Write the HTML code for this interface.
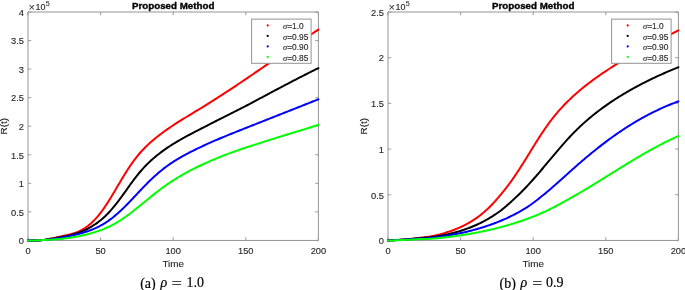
<!DOCTYPE html><html><head><meta charset="utf-8"><style>html,body{margin:0;padding:0;background:#fff;}body{width:685px;height:290px;overflow:hidden;}svg{display:block;}text{font-family:"Liberation Sans",Arial,Helvetica,sans-serif;fill:#262626;stroke:#262626;stroke-width:0.12px;}text.t{fill:#000;stroke:#000;stroke-width:0.35px;font-weight:bold;}text.cap{font-family:"Liberation Serif","Times New Roman",serif;fill:#000;stroke:#000;stroke-width:0.18px;}.sg{font-family:"Liberation Serif","Times New Roman",serif;font-style:italic;}</style></head><body>
<svg width="685" height="290" viewBox="0 0 685 290">
<path d="M28.00 240.45V237.25M28.00 12.00V15.20M100.60 240.45V237.25M100.60 12.00V15.20M173.20 240.45V237.25M173.20 12.00V15.20M245.80 240.45V237.25M245.80 12.00V15.20M318.40 240.45V237.25M318.40 12.00V15.20M28.00 240.45H31.20M318.40 240.45H315.20M28.00 211.89H31.20M318.40 211.89H315.20M28.00 183.34H31.20M318.40 183.34H315.20M28.00 154.78H31.20M318.40 154.78H315.20M28.00 126.22H31.20M318.40 126.22H315.20M28.00 97.67H31.20M318.40 97.67H315.20M28.00 69.11H31.20M318.40 69.11H315.20M28.00 40.56H31.20M318.40 40.56H315.20M28.00 12.00H31.20M318.40 12.00H315.20" stroke="#9c9c9c" stroke-width="1" fill="none"/>
<path d="M28.00 12.00H318.40V240.45H28.00Z" stroke="#939393" stroke-width="1" fill="none"/>
<path d="M28.00 240.45L29.42 240.49L30.82 240.53L32.23 240.55L33.62 240.56L35.01 240.57L36.40 240.48L37.78 240.39L39.15 240.28L40.52 240.17L41.89 240.03L43.26 239.89L44.62 239.73L45.98 239.52L47.33 239.29L48.69 239.04L50.05 238.78L51.40 238.50L52.76 238.21L54.12 237.91L55.49 237.61L56.87 237.29L58.26 236.98L59.66 236.67L61.07 236.37L62.49 236.07L63.91 235.77L65.34 235.47L66.76 235.15L68.18 234.83L69.58 234.48L70.98 234.12L72.36 233.73L73.72 233.32L75.06 232.87L76.38 232.40L77.67 231.88L78.93 231.32L80.17 230.73L81.38 230.11L82.56 229.44L83.72 228.75L84.86 228.02L85.97 227.28L87.06 226.52L88.13 225.72L89.17 224.90L90.20 224.04L91.20 223.17L92.19 222.26L93.16 221.33L94.11 220.38L95.04 219.41L95.96 218.42L96.86 217.40L97.75 216.37L98.62 215.32L99.48 214.25L100.33 213.17L101.16 212.08L101.98 210.97L102.79 209.84L103.60 208.71L104.39 207.56L105.17 206.41L105.94 205.25L106.71 204.08L107.47 202.91L108.23 201.73L108.98 200.54L109.72 199.35L110.46 198.16L111.19 196.96L111.92 195.76L112.65 194.56L113.37 193.35L114.09 192.14L114.81 190.93L115.53 189.72L116.24 188.51L116.96 187.29L117.67 186.08L118.39 184.87L119.10 183.65L119.82 182.44L120.53 181.23L121.25 180.03L121.97 178.82L122.70 177.62L123.42 176.42L124.15 175.22L124.89 174.03L125.63 172.85L126.37 171.66L127.12 170.49L127.88 169.32L128.64 168.15L129.40 166.99L130.18 165.84L130.96 164.70L131.75 163.56L132.55 162.44L133.36 161.32L134.18 160.21L135.01 159.11L135.84 158.02L136.69 156.94L137.55 155.87L138.42 154.81L139.31 153.76L140.20 152.73L141.11 151.71L142.03 150.70L142.97 149.70L143.91 148.71L144.87 147.73L145.83 146.77L146.81 145.81L147.80 144.87L148.80 143.94L149.81 143.01L150.83 142.10L151.86 141.19L152.90 140.30L153.95 139.41L155.01 138.53L156.08 137.67L157.15 136.80L158.23 135.95L159.32 135.11L160.42 134.27L161.53 133.44L162.64 132.61L163.76 131.80L164.89 130.99L166.02 130.18L167.16 129.39L168.30 128.59L169.45 127.81L170.60 127.03L171.76 126.25L172.93 125.48L174.10 124.71L175.27 123.95L176.45 123.19L177.63 122.44L178.81 121.69L179.99 120.94L181.18 120.19L182.38 119.45L183.57 118.71L184.77 117.98L185.96 117.24L187.16 116.51L188.36 115.78L189.56 115.05L190.77 114.32L191.97 113.59L193.17 112.87L194.37 112.14L195.57 111.41L196.77 110.69L197.97 109.96L199.17 109.23L200.37 108.51L201.57 107.78L202.76 107.05L203.95 106.31L205.14 105.58L206.33 104.85L207.51 104.11L208.70 103.37L209.88 102.63L211.05 101.89L212.23 101.15L213.41 100.41L214.58 99.66L215.75 98.92L216.92 98.17L218.09 97.42L219.25 96.67L220.42 95.92L221.58 95.17L222.74 94.42L223.90 93.67L225.06 92.91L226.22 92.15L227.37 91.40L228.53 90.64L229.68 89.88L230.83 89.12L231.98 88.36L233.13 87.59L234.28 86.83L235.43 86.07L236.58 85.30L237.72 84.53L238.86 83.77L240.01 83.00L241.15 82.23L242.29 81.46L243.43 80.69L244.57 79.92L245.71 79.15L246.85 78.37L247.99 77.60L249.13 76.83L250.26 76.05L251.40 75.28L252.54 74.50L253.67 73.72L254.81 72.94L255.94 72.17L257.08 71.39L258.21 70.61L259.35 69.83L260.48 69.05L261.62 68.27L262.75 67.49L263.89 66.71L265.02 65.92L266.16 65.14L267.29 64.36L268.43 63.58L269.56 62.79L270.70 62.01L271.83 61.23L272.97 60.44L274.10 59.66L275.24 58.87L276.38 58.09L277.52 57.30L278.65 56.52L279.79 55.73L280.93 54.95L282.07 54.16L283.21 53.37L284.36 52.59L285.50 51.80L286.64 51.02L287.79 50.23L288.93 49.44L290.08 48.66L291.23 47.87L292.37 47.09L293.52 46.30L294.68 45.52L295.83 44.73L296.98 43.95L298.14 43.16L299.29 42.38L300.45 41.59L301.61 40.81L302.77 40.02L303.93 39.24L305.09 38.45L306.26 37.67L307.42 36.89L308.59 36.11L309.76 35.32L310.93 34.54L312.11 33.76L313.28 32.98L314.46 32.20L315.64 31.42L316.82 30.64L318.01 29.86L318.40 29.60" fill="none" stroke="#ff0000" stroke-width="2.0" stroke-linejoin="round" stroke-linecap="round"/>
<path d="M28.00 240.45L29.31 240.51L30.62 240.55L31.92 240.58L33.23 240.60L34.53 240.61L35.83 240.57L37.13 240.49L38.43 240.40L39.72 240.29L41.02 240.18L42.31 240.07L43.60 239.94L44.89 239.81L46.19 239.63L47.48 239.44L48.77 239.25L50.06 239.05L51.35 238.85L52.64 238.64L53.93 238.43L55.22 238.21L56.52 237.98L57.81 237.75L59.10 237.51L60.40 237.27L61.69 237.03L62.99 236.78L64.28 236.53L65.57 236.27L66.86 235.99L68.14 235.71L69.42 235.41L70.70 235.10L71.97 234.77L73.23 234.42L74.48 234.05L75.73 233.67L76.97 233.26L78.21 232.82L79.43 232.37L80.64 231.90L81.85 231.40L83.04 230.88L84.22 230.34L85.40 229.79L86.56 229.23L87.71 228.65L88.86 228.05L89.99 227.43L91.10 226.80L92.21 226.14L93.31 225.46L94.39 224.77L95.46 224.06L96.52 223.32L97.56 222.57L98.59 221.81L99.61 221.02L100.61 220.22L101.60 219.40L102.58 218.57L103.54 217.71L104.49 216.85L105.42 215.96L106.34 215.07L107.25 214.16L108.15 213.23L109.03 212.29L109.91 211.35L110.78 210.38L111.63 209.41L112.48 208.43L113.31 207.44L114.14 206.43L114.97 205.42L115.78 204.40L116.59 203.38L117.39 202.34L118.19 201.30L118.98 200.25L119.76 199.20L120.54 198.14L121.32 197.08L122.10 196.01L122.87 194.95L123.64 193.87L124.41 192.80L125.17 191.72L125.94 190.65L126.71 189.57L127.47 188.50L128.24 187.42L129.01 186.34L129.78 185.27L130.55 184.20L131.33 183.13L132.10 182.07L132.89 181.01L133.67 179.96L134.46 178.91L135.26 177.86L136.06 176.83L136.87 175.80L137.69 174.77L138.51 173.76L139.34 172.75L140.18 171.75L141.02 170.77L141.88 169.79L142.75 168.82L143.62 167.87L144.51 166.92L145.40 165.99L146.30 165.06L147.22 164.15L148.14 163.25L149.07 162.36L150.01 161.47L150.95 160.60L151.91 159.74L152.87 158.88L153.85 158.04L154.82 157.21L155.81 156.38L156.81 155.57L157.81 154.76L158.82 153.96L159.84 153.17L160.86 152.40L161.89 151.63L162.93 150.86L163.97 150.11L165.02 149.37L166.08 148.63L167.14 147.90L168.21 147.18L169.29 146.47L170.37 145.77L171.45 145.07L172.54 144.38L173.64 143.70L174.74 143.03L175.85 142.36L176.96 141.70L178.07 141.04L179.19 140.39L180.32 139.75L181.44 139.11L182.57 138.47L183.71 137.84L184.85 137.22L185.99 136.60L187.13 135.98L188.27 135.36L189.42 134.75L190.57 134.14L191.72 133.54L192.88 132.93L194.03 132.33L195.19 131.73L196.35 131.13L197.50 130.54L198.66 129.94L199.82 129.35L200.98 128.75L202.14 128.16L203.31 127.56L204.47 126.97L205.63 126.37L206.79 125.77L207.95 125.18L209.10 124.58L210.26 123.98L211.42 123.38L212.58 122.78L213.74 122.18L214.89 121.58L216.05 120.99L217.21 120.42L218.36 119.84L219.52 119.26L220.67 118.68L221.83 118.11L222.98 117.53L224.14 116.95L225.29 116.37L226.44 115.79L227.60 115.21L228.75 114.63L229.91 114.05L231.06 113.46L232.21 112.88L233.37 112.30L234.52 111.72L235.67 111.14L236.82 110.55L237.98 109.97L239.13 109.39L240.28 108.81L241.43 108.22L242.59 107.64L243.74 107.06L244.89 106.47L246.04 105.87L247.19 105.25L248.35 104.64L249.50 104.02L250.65 103.40L251.80 102.79L252.96 102.17L254.11 101.56L255.26 100.94L256.41 100.33L257.57 99.71L258.72 99.10L259.87 98.48L261.03 97.87L262.18 97.26L263.33 96.64L264.49 96.03L265.64 95.42L266.79 94.80L267.95 94.18L269.10 93.56L270.26 92.95L271.41 92.33L272.57 91.71L273.73 91.10L274.88 90.48L276.04 89.87L277.20 89.26L278.35 88.65L279.51 88.03L280.67 87.42L281.83 86.81L282.99 86.20L284.15 85.59L285.30 84.98L286.46 84.37L287.63 83.77L288.79 83.16L289.95 82.55L291.11 81.94L292.27 81.34L293.44 80.73L294.60 80.13L295.76 79.53L296.93 78.93L298.09 78.33L299.26 77.73L300.43 77.13L301.59 76.53L302.76 75.93L303.93 75.34L305.10 74.75L306.27 74.15L307.44 73.56L308.61 72.97L309.78 72.38L310.96 71.80L312.13 71.21L313.30 70.62L314.48 70.04L315.65 69.46L316.83 68.88L318.01 68.30L318.40 68.11" fill="none" stroke="#000000" stroke-width="2.0" stroke-linejoin="round" stroke-linecap="round"/>
<path d="M28.00 240.45L29.23 240.47L30.46 240.48L31.69 240.49L32.92 240.50L34.15 240.50L35.39 240.49L36.62 240.42L37.86 240.35L39.10 240.28L40.34 240.21L41.58 240.13L42.82 240.04L44.06 239.96L45.30 239.86L46.54 239.73L47.78 239.59L49.02 239.45L50.26 239.30L51.51 239.15L52.75 238.99L53.99 238.83L55.23 238.66L56.47 238.47L57.71 238.28L58.95 238.09L60.19 237.88L61.43 237.67L62.67 237.46L63.90 237.23L65.14 237.00L66.38 236.77L67.61 236.52L68.84 236.27L70.07 236.01L71.30 235.75L72.53 235.47L73.75 235.19L74.97 234.90L76.19 234.59L77.40 234.28L78.61 233.96L79.82 233.63L81.02 233.28L82.21 232.93L83.41 232.56L84.59 232.19L85.77 231.81L86.94 231.43L88.11 231.03L89.27 230.63L90.42 230.21L91.57 229.77L92.71 229.32L93.84 228.86L94.96 228.38L96.07 227.88L97.17 227.37L98.27 226.84L99.35 226.29L100.43 225.73L101.49 225.14L102.54 224.55L103.59 223.93L104.62 223.30L105.64 222.65L106.66 221.98L107.66 221.30L108.66 220.61L109.65 219.90L110.63 219.17L111.60 218.43L112.57 217.69L113.52 216.92L114.47 216.15L115.42 215.36L116.35 214.57L117.28 213.76L118.21 212.94L119.13 212.11L120.04 211.28L120.95 210.43L121.85 209.58L122.75 208.72L123.64 207.85L124.53 206.98L125.42 206.10L126.30 205.21L127.18 204.32L128.05 203.43L128.93 202.52L129.80 201.62L130.66 200.71L131.53 199.80L132.39 198.89L133.26 197.97L134.12 197.06L134.98 196.14L135.84 195.22L136.70 194.31L137.56 193.39L138.42 192.47L139.28 191.56L140.14 190.64L141.01 189.73L141.87 188.83L142.73 187.92L143.60 187.02L144.47 186.12L145.34 185.23L146.22 184.34L147.09 183.46L147.97 182.58L148.85 181.71L149.74 180.84L150.63 179.98L151.52 179.12L152.42 178.27L153.32 177.43L154.23 176.60L155.14 175.77L156.05 174.94L156.97 174.13L157.90 173.32L158.83 172.52L159.76 171.73L160.71 170.95L161.65 170.18L162.61 169.41L163.57 168.66L164.54 167.91L165.51 167.18L166.50 166.45L167.48 165.73L168.48 165.03L169.48 164.33L170.49 163.64L171.50 162.96L172.53 162.29L173.55 161.62L174.58 160.97L175.62 160.32L176.66 159.68L177.71 159.05L178.77 158.42L179.82 157.80L180.89 157.19L181.95 156.58L183.03 155.98L184.10 155.39L185.18 154.80L186.26 154.22L187.35 153.64L188.44 153.07L189.54 152.51L190.63 151.94L191.73 151.39L192.83 150.83L193.94 150.28L195.05 149.74L196.16 149.19L197.27 148.65L198.38 148.12L199.50 147.59L200.62 147.06L201.74 146.53L202.86 146.01L203.98 145.49L205.11 144.97L206.24 144.46L207.37 143.95L208.50 143.44L209.63 142.93L210.77 142.43L211.90 141.93L213.04 141.43L214.18 140.94L215.32 140.44L216.46 139.95L217.60 139.46L218.75 138.98L219.89 138.49L221.04 138.01L222.18 137.53L223.33 137.05L224.48 136.57L225.63 136.10L226.78 135.62L227.93 135.15L229.09 134.68L230.24 134.21L231.39 133.74L232.55 133.27L233.70 132.81L234.86 132.34L236.01 131.88L237.17 131.42L238.32 130.96L239.48 130.50L240.64 130.04L241.79 129.58L242.95 129.12L244.11 128.66L245.26 128.20L246.42 127.75L247.58 127.29L248.73 126.83L249.89 126.38L251.05 125.92L252.20 125.47L253.36 125.01L254.51 124.56L255.67 124.10L256.82 123.65L257.98 123.19L259.13 122.74L260.29 122.28L261.44 121.83L262.59 121.37L263.75 120.92L264.90 120.46L266.05 120.01L267.21 119.55L268.36 119.10L269.51 118.64L270.67 118.19L271.82 117.73L272.97 117.28L274.12 116.82L275.28 116.37L276.43 115.91L277.58 115.46L278.73 115.00L279.89 114.55L281.04 114.09L282.19 113.64L283.34 113.18L284.50 112.73L285.65 112.27L286.80 111.82L287.96 111.36L289.11 110.91L290.26 110.45L291.42 109.99L292.57 109.54L293.72 109.08L294.88 108.63L296.03 108.17L297.19 107.71L298.34 107.26L299.49 106.80L300.65 106.34L301.80 105.88L302.96 105.43L304.12 104.97L305.27 104.51L306.43 104.05L307.59 103.59L308.74 103.13L309.90 102.68L311.06 102.22L312.22 101.76L313.37 101.30L314.53 100.84L315.69 100.38L316.85 99.91L318.01 99.45L318.40 99.30" fill="none" stroke="#0000ff" stroke-width="2.0" stroke-linejoin="round" stroke-linecap="round"/>
<path d="M28.00 240.50L29.17 240.49L30.35 240.48L31.52 240.48L32.70 240.48L33.89 240.48L35.07 240.48L36.26 240.42L37.45 240.35L38.65 240.29L39.84 240.23L41.04 240.17L42.24 240.12L43.44 240.06L44.64 240.00L45.85 239.93L47.05 239.86L48.26 239.79L49.47 239.72L50.68 239.64L51.89 239.56L53.09 239.48L54.30 239.40L55.51 239.31L56.73 239.22L57.94 239.13L59.15 239.03L60.35 238.92L61.56 238.79L62.77 238.66L63.98 238.52L65.19 238.37L66.39 238.21L67.60 238.06L68.80 237.89L70.00 237.71L71.20 237.53L72.40 237.35L73.59 237.15L74.78 236.95L75.97 236.74L77.16 236.52L78.35 236.29L79.53 236.06L80.71 235.81L81.89 235.56L83.06 235.30L84.23 235.03L85.40 234.75L86.56 234.46L87.72 234.16L88.88 233.85L90.03 233.53L91.18 233.22L92.32 232.91L93.46 232.58L94.60 232.24L95.72 231.89L96.85 231.53L97.97 231.16L99.08 230.78L100.19 230.38L101.30 229.98L102.39 229.56L103.49 229.13L104.57 228.68L105.65 228.23L106.73 227.76L107.79 227.28L108.85 226.78L109.91 226.27L110.96 225.75L112.00 225.21L113.03 224.67L114.06 224.11L115.08 223.53L116.10 222.95L117.11 222.35L118.11 221.74L119.11 221.13L120.11 220.50L121.10 219.86L122.08 219.21L123.06 218.55L124.04 217.89L125.01 217.21L125.98 216.53L126.94 215.84L127.90 215.14L128.86 214.44L129.81 213.72L130.76 213.01L131.71 212.28L132.66 211.55L133.60 210.82L134.54 210.08L135.48 209.34L136.42 208.59L137.35 207.84L138.29 207.08L139.22 206.32L140.15 205.56L141.08 204.80L142.01 204.04L142.94 203.27L143.87 202.50L144.80 201.74L145.73 200.97L146.66 200.20L147.58 199.43L148.52 198.67L149.45 197.90L150.38 197.14L151.31 196.38L152.25 195.63L153.18 194.88L154.12 194.14L155.06 193.39L156.00 192.66L156.95 191.92L157.90 191.19L158.85 190.46L159.80 189.74L160.76 189.03L161.72 188.32L162.68 187.62L163.65 186.92L164.61 186.23L165.59 185.54L166.56 184.86L167.54 184.19L168.52 183.52L169.51 182.86L170.50 182.20L171.49 181.55L172.48 180.90L173.48 180.26L174.48 179.62L175.48 178.99L176.49 178.37L177.50 177.75L178.51 177.13L179.52 176.52L180.54 175.92L181.56 175.32L182.59 174.72L183.61 174.14L184.64 173.55L185.67 172.97L186.70 172.40L187.74 171.83L188.78 171.26L189.82 170.70L190.86 170.15L191.91 169.62L192.96 169.08L194.01 168.56L195.06 168.04L196.12 167.52L197.18 167.00L198.24 166.49L199.30 165.99L200.37 165.49L201.43 164.99L202.50 164.50L203.57 164.01L204.65 163.53L205.72 163.05L206.80 162.57L207.88 162.09L208.96 161.61L210.05 161.14L211.13 160.67L212.22 160.20L213.31 159.73L214.40 159.27L215.50 158.81L216.59 158.36L217.69 157.91L218.79 157.46L219.89 157.02L220.99 156.58L222.10 156.14L223.20 155.71L224.31 155.28L225.42 154.85L226.53 154.43L227.64 154.01L228.76 153.59L229.87 153.17L230.99 152.76L232.11 152.35L233.22 151.95L234.35 151.55L235.47 151.15L236.59 150.75L237.72 150.35L238.84 149.96L239.97 149.57L241.10 149.19L242.23 148.80L243.36 148.42L244.49 148.04L245.63 147.67L246.76 147.29L247.90 146.92L249.03 146.55L250.17 146.19L251.31 145.82L252.45 145.46L253.59 145.09L254.73 144.71L255.87 144.34L257.01 143.96L258.16 143.59L259.30 143.22L260.45 142.85L261.59 142.48L262.74 142.12L263.89 141.76L265.03 141.39L266.18 141.03L267.33 140.68L268.48 140.32L269.63 139.96L270.78 139.60L271.93 139.24L273.08 138.87L274.23 138.51L275.39 138.14L276.54 137.78L277.69 137.42L278.84 137.06L280.00 136.70L281.15 136.34L282.30 135.99L283.46 135.63L284.61 135.28L285.77 134.92L286.92 134.57L288.08 134.22L289.23 133.87L290.38 133.52L291.54 133.17L292.69 132.82L293.85 132.47L295.00 132.12L296.16 131.77L297.31 131.43L298.46 131.08L299.62 130.73L300.77 130.39L301.92 130.04L303.07 129.70L304.23 129.35L305.38 129.01L306.53 128.66L307.68 128.31L308.83 127.93L309.98 127.56L311.13 127.19L312.28 126.81L313.43 126.44L314.58 126.07L315.73 125.69L316.87 125.32L318.02 124.94L318.40 124.82" fill="none" stroke="#00ff00" stroke-width="2.0" stroke-linejoin="round" stroke-linecap="round"/>
<rect x="251.60" y="19.10" width="59.50" height="44.20" fill="#fff" stroke="#939393" stroke-width="1"/>
<circle cx="267.70" cy="25.40" r="1.1" fill="#ff0000"/>
<text x="283.0" y="29.10" font-size="8.4"><tspan class="sg">σ</tspan>=1.0</text>
<circle cx="267.70" cy="35.90" r="1.1" fill="#000000"/>
<text x="283.0" y="39.60" font-size="8.4"><tspan class="sg">σ</tspan>=0.95</text>
<circle cx="267.70" cy="46.40" r="1.1" fill="#0000ff"/>
<text x="283.0" y="50.10" font-size="8.4"><tspan class="sg">σ</tspan>=0.90</text>
<circle cx="267.70" cy="56.90" r="1.1" fill="#00ff00"/>
<text x="283.0" y="60.60" font-size="8.4"><tspan class="sg">σ</tspan>=0.85</text>
<text x="28.00" y="254.2" font-size="9.3" text-anchor="middle">0</text>
<text x="100.60" y="254.2" font-size="9.3" text-anchor="middle">50</text>
<text x="173.20" y="254.2" font-size="9.3" text-anchor="middle">100</text>
<text x="245.80" y="254.2" font-size="9.3" text-anchor="middle">150</text>
<text x="318.40" y="254.2" font-size="9.3" text-anchor="middle">200</text>
<text x="24.00" y="244.20" font-size="9.3" text-anchor="end">0</text>
<text x="24.00" y="215.64" font-size="9.3" text-anchor="end">0.5</text>
<text x="24.00" y="187.09" font-size="9.3" text-anchor="end">1</text>
<text x="24.00" y="158.53" font-size="9.3" text-anchor="end">1.5</text>
<text x="24.00" y="129.97" font-size="9.3" text-anchor="end">2</text>
<text x="24.00" y="101.42" font-size="9.3" text-anchor="end">2.5</text>
<text x="24.00" y="72.86" font-size="9.3" text-anchor="end">3</text>
<text x="24.00" y="44.31" font-size="9.3" text-anchor="end">3.5</text>
<text x="24.00" y="15.75" font-size="9.3" text-anchor="end">4</text>
<text x="28.5" y="11.1" font-size="11" style="stroke-width:0">×</text>
<text x="35.6" y="9.8" font-size="9">10</text>
<text x="45.7" y="5.8" font-size="7.2" style="stroke-width:0.05px">5</text>
<text class="t" x="173.20" y="8.7" font-size="9.75" text-anchor="middle">Proposed Method</text>
<text x="173.20" y="267" font-size="9.9" text-anchor="middle">Time</text>
<text transform="translate(6.50,126.22) rotate(-90)" font-size="9.9" text-anchor="middle">R(t)</text>
<text class="cap" x="140.2" y="287.6" font-size="14">(a)</text>
<text class="cap" x="160.4" y="287.3" font-size="14" font-style="italic">ρ</text>
<text class="cap" x="171.6" y="288.4" font-size="14" textLength="10.4" lengthAdjust="spacingAndGlyphs">=</text>
<text class="cap" x="186.4" y="287" font-size="14">1.0</text>
<path d="M388.00 240.45V237.25M388.00 12.00V15.20M460.60 240.45V237.25M460.60 12.00V15.20M533.20 240.45V237.25M533.20 12.00V15.20M605.80 240.45V237.25M605.80 12.00V15.20M678.40 240.45V237.25M678.40 12.00V15.20M388.00 240.45H391.20M678.40 240.45H675.20M388.00 194.76H391.20M678.40 194.76H675.20M388.00 149.07H391.20M678.40 149.07H675.20M388.00 103.38H391.20M678.40 103.38H675.20M388.00 57.69H391.20M678.40 57.69H675.20M388.00 12.00H391.20M678.40 12.00H675.20" stroke="#9c9c9c" stroke-width="1" fill="none"/>
<path d="M388.00 12.00H678.40V240.45H388.00Z" stroke="#939393" stroke-width="1" fill="none"/>
<path d="M388.00 240.45L389.38 240.41L390.77 240.36L392.16 240.31L393.54 240.25L394.94 240.19L396.33 240.11L397.73 240.03L399.12 239.94L400.52 239.85L401.92 239.75L403.32 239.64L404.72 239.52L406.12 239.39L407.53 239.26L408.93 239.12L410.33 238.97L411.74 238.81L413.14 238.64L414.55 238.46L415.95 238.28L417.35 238.08L418.75 237.88L420.15 237.73L421.55 237.58L422.95 237.42L424.35 237.26L425.74 237.08L427.14 236.89L428.53 236.69L429.92 236.49L431.30 236.24L432.69 235.97L434.07 235.70L435.45 235.41L436.82 235.11L438.20 234.80L439.57 234.48L440.93 234.12L442.29 233.74L443.65 233.34L445.01 232.93L446.36 232.51L447.70 232.07L449.04 231.63L450.37 231.17L451.70 230.69L453.01 230.20L454.33 229.70L455.63 229.19L456.93 228.66L458.22 228.12L459.50 227.56L460.77 226.99L462.03 226.40L463.29 225.80L464.53 225.18L465.76 224.55L466.98 223.90L468.20 223.24L469.40 222.56L470.59 221.86L471.76 221.15L472.93 220.42L474.08 219.68L475.22 218.92L476.36 218.15L477.48 217.36L478.59 216.56L479.68 215.74L480.77 214.89L481.85 214.00L482.92 213.10L483.97 212.19L485.02 211.26L486.06 210.32L487.09 209.37L488.11 208.41L489.11 207.44L490.11 206.45L491.10 205.45L492.09 204.43L493.06 203.40L494.02 202.37L494.98 201.32L495.93 200.26L496.86 199.20L497.80 198.12L498.72 197.04L499.63 195.95L500.54 194.87L501.44 193.80L502.33 192.73L503.22 191.65L504.10 190.56L504.97 189.46L505.83 188.36L506.69 187.25L507.54 186.13L508.39 185.01L509.22 183.88L510.06 182.74L510.88 181.60L511.70 180.46L512.52 179.30L513.33 178.15L514.13 176.98L514.93 175.82L515.73 174.65L516.52 173.47L517.30 172.30L518.08 171.11L518.86 169.93L519.63 168.74L520.39 167.55L521.16 166.36L521.92 165.16L522.68 163.97L523.43 162.77L524.18 161.57L524.93 160.37L525.68 159.17L526.42 157.96L527.17 156.76L527.91 155.55L528.65 154.35L529.39 153.15L530.13 151.94L530.87 150.74L531.61 149.53L532.36 148.33L533.10 147.13L533.84 145.93L534.59 144.73L535.33 143.54L536.08 142.34L536.83 141.15L537.58 139.96L538.34 138.78L539.10 137.59L539.86 136.41L540.62 135.24L541.39 134.06L542.17 132.89L542.95 131.73L543.73 130.57L544.52 129.41L545.31 128.26L546.11 127.11L546.91 125.97L547.72 124.84L548.54 123.71L549.36 122.58L550.19 121.46L551.03 120.35L551.87 119.25L552.72 118.15L553.58 117.06L554.45 115.97L555.33 114.90L556.22 113.83L557.11 112.77L558.02 111.71L558.93 110.67L559.85 109.63L560.78 108.60L561.72 107.57L562.66 106.56L563.62 105.55L564.58 104.55L565.55 103.55L566.52 102.56L567.51 101.58L568.50 100.61L569.50 99.64L570.51 98.68L571.52 97.72L572.54 96.77L573.57 95.83L574.60 94.90L575.64 93.97L576.69 93.05L577.74 92.13L578.81 91.22L579.87 90.32L580.94 89.42L582.02 88.53L583.11 87.64L584.20 86.76L585.30 85.89L586.40 85.02L587.50 84.15L588.62 83.30L589.73 82.45L590.86 81.60L591.99 80.76L593.12 79.92L594.26 79.09L595.40 78.27L596.55 77.45L597.70 76.63L598.85 75.82L600.01 75.01L601.18 74.21L602.35 73.42L603.52 72.63L604.69 71.84L605.87 71.06L607.06 70.28L608.24 69.51L609.43 68.74L610.63 67.97L611.82 67.21L613.02 66.45L614.22 65.70L615.43 64.95L616.64 64.21L617.85 63.47L619.06 62.73L620.27 62.00L621.49 61.27L622.71 60.54L623.93 59.82L625.16 59.10L626.38 58.39L627.61 57.68L628.84 56.97L630.07 56.26L631.30 55.56L632.53 54.86L633.77 54.16L635.00 53.47L636.24 52.78L637.47 52.09L638.71 51.41L639.95 50.72L641.19 50.04L642.42 49.37L643.66 48.69L644.90 48.02L646.14 47.35L647.38 46.68L648.62 46.01L649.86 45.35L651.09 44.69L652.33 44.03L653.57 43.37L654.81 42.72L656.04 42.06L657.27 41.41L658.51 40.76L659.74 40.11L660.97 39.46L662.20 38.81L663.43 38.17L664.65 37.53L665.88 36.88L667.10 36.24L668.32 35.60L669.54 34.96L670.76 34.32L671.97 33.69L673.18 33.05L674.39 32.41L675.60 31.78L676.80 31.15L678.00 30.51L678.40 30.30" fill="none" stroke="#ff0000" stroke-width="2.0" stroke-linejoin="round" stroke-linecap="round"/>
<path d="M388.00 240.45L389.29 240.39L390.58 240.32L391.88 240.26L393.18 240.19L394.48 240.12L395.78 240.04L397.09 239.97L398.39 239.89L399.70 239.81L401.01 239.72L402.33 239.63L403.64 239.54L404.96 239.45L406.27 239.35L407.59 239.25L408.91 239.14L410.23 239.03L411.55 238.92L412.87 238.80L414.19 238.68L415.52 238.55L416.84 238.42L418.16 238.28L419.49 238.16L420.81 238.09L422.13 238.01L423.45 237.92L424.77 237.83L426.09 237.73L427.41 237.63L428.73 237.52L430.05 237.40L431.37 237.22L432.68 237.03L434.00 236.84L435.31 236.64L436.62 236.43L437.93 236.21L439.23 235.99L440.54 235.75L441.84 235.50L443.14 235.24L444.43 234.97L445.73 234.70L447.02 234.41L448.31 234.12L449.59 233.82L450.87 233.51L452.15 233.19L453.43 232.87L454.70 232.53L455.97 232.18L457.23 231.83L458.49 231.46L459.75 231.09L461.00 230.71L462.24 230.31L463.49 229.91L464.72 229.49L465.96 229.07L467.18 228.63L468.41 228.18L469.62 227.73L470.84 227.26L472.04 226.78L473.24 226.28L474.44 225.78L475.63 225.27L476.81 224.74L477.99 224.20L479.16 223.65L480.32 223.09L481.48 222.51L482.63 221.92L483.77 221.32L484.91 220.71L486.04 220.09L487.17 219.45L488.29 218.81L489.40 218.15L490.51 217.48L491.61 216.80L492.70 216.11L493.79 215.41L494.87 214.70L495.95 213.98L497.02 213.25L498.08 212.50L499.14 211.75L500.19 210.99L501.24 210.17L502.28 209.35L503.31 208.51L504.34 207.66L505.36 206.81L506.38 205.95L507.39 205.08L508.39 204.20L509.39 203.32L510.39 202.43L511.38 201.53L512.36 200.62L513.34 199.70L514.31 198.78L515.28 197.86L516.24 196.97L517.20 196.07L518.15 195.17L519.09 194.26L520.03 193.35L520.97 192.43L521.90 191.50L522.83 190.57L523.75 189.63L524.66 188.69L525.57 187.74L526.48 186.79L527.38 185.83L528.28 184.86L529.17 183.90L530.06 182.93L530.94 181.95L531.82 180.97L532.70 179.99L533.58 179.01L534.45 178.02L535.32 177.03L536.18 176.03L537.05 175.03L537.91 174.03L538.77 173.03L539.63 172.03L540.48 171.02L541.33 170.01L542.19 169.00L543.04 167.99L543.89 166.98L544.73 165.97L545.58 164.96L546.43 163.94L547.28 162.93L548.12 161.91L548.97 160.90L549.81 159.88L550.66 158.87L551.51 157.85L552.35 156.84L553.20 155.83L554.05 154.82L554.90 153.81L555.75 152.80L556.60 151.79L557.45 150.79L558.31 149.78L559.17 148.78L560.03 147.78L560.89 146.79L561.75 145.79L562.62 144.80L563.49 143.81L564.36 142.83L565.24 141.85L566.12 140.87L567.00 139.90L567.88 138.93L568.77 137.97L569.67 137.01L570.56 136.05L571.47 135.10L572.37 134.15L573.28 133.21L574.20 132.28L575.12 131.35L576.05 130.42L576.98 129.50L577.91 128.59L578.86 127.68L579.80 126.78L580.76 125.89L581.71 125.00L582.68 124.12L583.65 123.24L584.62 122.37L585.60 121.50L586.58 120.64L587.57 119.79L588.56 118.94L589.56 118.10L590.56 117.26L591.57 116.43L592.58 115.60L593.60 114.78L594.62 113.97L595.65 113.16L596.68 112.35L597.71 111.56L598.75 110.76L599.79 109.98L600.84 109.19L601.89 108.42L602.95 107.64L604.01 106.88L605.07 106.12L606.14 105.36L607.21 104.61L608.29 103.86L609.37 103.12L610.45 102.39L611.54 101.66L612.63 100.93L613.72 100.21L614.82 99.49L615.92 98.78L617.03 98.08L618.13 97.38L619.25 96.68L620.36 95.99L621.48 95.30L622.60 94.62L623.73 93.94L624.85 93.27L625.98 92.60L627.12 91.94L628.26 91.28L629.40 90.62L630.54 89.98L631.68 89.33L632.83 88.69L633.98 88.05L635.14 87.42L636.29 86.79L637.45 86.17L638.61 85.55L639.78 84.94L640.94 84.33L642.11 83.72L643.28 83.12L644.45 82.52L645.63 81.93L646.81 81.34L647.99 80.75L649.17 80.17L650.35 79.60L651.54 79.02L652.72 78.45L653.91 77.89L655.10 77.33L656.29 76.77L657.49 76.21L658.68 75.67L659.88 75.12L661.08 74.58L662.28 74.04L663.48 73.50L664.69 72.97L665.89 72.44L667.10 71.92L668.30 71.40L669.51 70.88L670.72 70.37L671.93 69.86L673.14 69.35L674.35 68.85L675.57 68.35L676.78 67.86L677.99 67.36L678.40 67.20" fill="none" stroke="#000000" stroke-width="2.0" stroke-linejoin="round" stroke-linecap="round"/>
<path d="M388.00 240.45L389.23 240.40L390.46 240.36L391.70 240.31L392.93 240.26L394.16 240.20L395.40 240.15L396.64 240.09L397.87 240.03L399.11 239.96L400.35 239.90L401.59 239.83L402.83 239.76L404.07 239.68L405.31 239.60L406.55 239.52L407.79 239.44L409.03 239.36L410.28 239.27L411.52 239.17L412.76 239.08L414.01 238.98L415.25 238.88L416.49 238.77L417.74 238.67L418.98 238.55L420.22 238.50L421.46 238.45L422.71 238.40L423.95 238.34L425.19 238.28L426.44 238.21L427.68 238.14L428.92 238.07L430.16 237.99L431.40 237.85L432.64 237.71L433.88 237.56L435.12 237.41L436.36 237.26L437.60 237.10L438.83 236.94L440.07 236.78L441.30 236.60L442.54 236.41L443.77 236.22L445.00 236.02L446.23 235.82L447.46 235.62L448.69 235.41L449.92 235.19L451.15 234.97L452.37 234.75L453.60 234.52L454.82 234.29L456.04 234.05L457.26 233.80L458.48 233.56L459.69 233.30L460.91 233.04L462.12 232.78L463.33 232.51L464.54 232.23L465.75 231.95L466.95 231.66L468.16 231.37L469.36 231.08L470.56 230.77L471.76 230.46L472.95 230.15L474.15 229.83L475.34 229.50L476.53 229.17L477.72 228.83L478.90 228.49L480.08 228.14L481.26 227.78L482.44 227.42L483.61 227.05L484.79 226.68L485.96 226.30L487.12 225.91L488.29 225.52L489.45 225.12L490.61 224.71L491.76 224.30L492.91 223.88L494.06 223.45L495.21 223.02L496.35 222.58L497.50 222.13L498.63 221.68L499.77 221.21L500.90 220.75L502.03 220.27L503.15 219.79L504.27 219.30L505.39 218.80L506.50 218.30L507.61 217.79L508.72 217.27L509.82 216.74L510.92 216.21L512.02 215.67L513.11 215.12L514.20 214.57L515.28 214.00L516.37 213.43L517.44 212.85L518.51 212.26L519.58 211.67L520.65 211.07L521.71 210.45L522.76 209.84L523.82 209.21L524.86 208.57L525.91 207.93L526.95 207.28L527.98 206.62L529.01 205.95L530.04 205.27L531.06 204.54L532.07 203.80L533.09 203.05L534.09 202.29L535.10 201.52L536.10 200.74L537.09 199.96L538.08 199.17L539.07 198.38L540.06 197.58L541.04 196.81L542.02 196.03L542.99 195.25L543.97 194.47L544.94 193.68L545.90 192.88L546.87 192.08L547.83 191.28L548.79 190.47L549.74 189.66L550.70 188.84L551.65 188.02L552.60 187.20L553.55 186.37L554.49 185.54L555.44 184.70L556.38 183.87L557.32 183.03L558.26 182.19L559.20 181.35L560.14 180.50L561.08 179.67L562.02 178.83L562.95 177.99L563.89 177.15L564.82 176.31L565.76 175.47L566.69 174.63L567.63 173.79L568.56 172.95L569.49 172.11L570.43 171.27L571.36 170.43L572.30 169.60L573.24 168.76L574.17 167.93L575.11 167.10L576.05 166.27L576.99 165.44L577.93 164.62L578.87 163.80L579.81 162.98L580.76 162.16L581.70 161.34L582.65 160.53L583.60 159.72L584.55 158.91L585.50 158.11L586.45 157.30L587.40 156.50L588.36 155.71L589.31 154.91L590.27 154.12L591.23 153.33L592.19 152.55L593.15 151.76L594.11 150.98L595.08 150.21L596.04 149.43L597.01 148.66L597.98 147.89L598.96 147.13L599.93 146.36L600.90 145.61L601.88 144.85L602.86 144.10L603.84 143.35L604.83 142.60L605.81 141.86L606.80 141.12L607.79 140.38L608.78 139.65L609.77 138.92L610.77 138.20L611.77 137.47L612.77 136.76L613.77 136.04L614.77 135.33L615.78 134.62L616.79 133.92L617.80 133.22L618.81 132.52L619.83 131.83L620.85 131.14L621.87 130.46L622.89 129.78L623.92 129.10L624.95 128.43L625.98 127.76L627.01 127.09L628.05 126.43L629.09 125.78L630.13 125.12L631.18 124.48L632.22 123.83L633.28 123.19L634.33 122.56L635.39 121.93L636.44 121.30L637.51 120.68L638.57 120.06L639.64 119.45L640.71 118.84L641.79 118.24L642.86 117.64L643.95 117.04L645.03 116.45L646.12 115.87L647.21 115.29L648.30 114.71L649.40 114.14L650.50 113.58L651.60 113.01L652.71 112.46L653.82 111.91L654.94 111.36L656.05 110.82L657.17 110.28L658.30 109.75L659.43 109.23L660.56 108.71L661.70 108.19L662.84 107.68L663.98 107.18L665.13 106.68L666.28 106.18L667.43 105.70L668.59 105.21L669.75 104.73L670.92 104.26L672.09 103.80L673.26 103.33L674.44 102.88L675.62 102.43L676.81 101.98L678.00 101.55L678.40 101.40" fill="none" stroke="#0000ff" stroke-width="2.0" stroke-linejoin="round" stroke-linecap="round"/>
<path d="M388.00 240.50L389.17 240.47L390.35 240.44L391.53 240.41L392.70 240.38L393.88 240.34L395.06 240.30L396.23 240.27L397.41 240.23L398.59 240.19L399.77 240.14L400.95 240.10L402.13 240.05L403.31 240.00L404.49 239.95L405.67 239.89L406.85 239.84L408.03 239.78L409.21 239.72L410.39 239.66L411.57 239.60L412.75 239.53L413.93 239.46L415.11 239.39L416.30 239.32L417.48 239.24L418.66 239.17L419.84 239.12L421.02 239.10L422.20 239.07L423.39 239.03L424.57 239.00L425.75 238.96L426.93 238.92L428.11 238.88L429.29 238.83L430.47 238.77L431.66 238.68L432.84 238.59L434.02 238.49L435.20 238.39L436.38 238.29L437.56 238.18L438.74 238.07L439.91 237.96L441.09 237.84L442.27 237.71L443.45 237.58L444.63 237.45L445.81 237.31L446.98 237.17L448.16 237.03L449.33 236.89L450.51 236.74L451.69 236.59L452.86 236.44L454.03 236.28L455.21 236.12L456.38 235.96L457.55 235.79L458.72 235.62L459.90 235.45L461.07 235.27L462.24 235.10L463.40 234.91L464.57 234.73L465.74 234.54L466.91 234.35L468.07 234.15L469.24 233.96L470.40 233.76L471.57 233.55L472.73 233.34L473.89 233.13L475.05 232.92L476.21 232.70L477.37 232.47L478.53 232.25L479.69 232.02L480.84 231.79L482.00 231.55L483.15 231.31L484.31 231.07L485.46 230.82L486.61 230.57L487.76 230.31L488.91 230.06L490.06 229.79L491.20 229.53L492.35 229.26L493.49 228.98L494.64 228.71L495.78 228.42L496.92 228.14L498.06 227.85L499.20 227.56L500.33 227.26L501.47 226.96L502.60 226.65L503.74 226.34L504.87 226.03L506.00 225.71L507.13 225.39L508.25 225.06L509.38 224.73L510.50 224.40L511.63 224.06L512.75 223.72L513.87 223.37L514.99 223.02L516.10 222.66L517.22 222.30L518.33 221.94L519.44 221.57L520.55 221.19L521.66 220.81L522.77 220.43L523.87 220.04L524.98 219.65L526.08 219.26L527.18 218.86L528.27 218.45L529.37 218.04L530.47 217.62L531.56 217.21L532.65 216.78L533.74 216.35L534.82 215.92L535.91 215.48L536.99 215.04L538.07 214.59L539.15 214.14L540.23 213.68L541.30 213.21L542.38 212.75L543.45 212.27L544.52 211.80L545.58 211.31L546.65 210.79L547.71 210.28L548.78 209.76L549.84 209.23L550.89 208.70L551.95 208.17L553.01 207.63L554.06 207.09L555.11 206.55L556.16 206.00L557.21 205.45L558.26 204.89L559.30 204.33L560.34 203.76L561.39 203.20L562.43 202.63L563.47 202.05L564.51 201.48L565.54 200.90L566.58 200.31L567.61 199.72L568.65 199.14L569.68 198.54L570.71 197.96L571.74 197.38L572.77 196.81L573.79 196.23L574.82 195.65L575.84 195.06L576.87 194.48L577.89 193.89L578.91 193.30L579.93 192.70L580.95 192.11L581.97 191.51L582.99 190.91L584.01 190.31L585.03 189.70L586.04 189.10L587.06 188.49L588.07 187.88L589.09 187.27L590.10 186.66L591.11 186.04L592.13 185.43L593.14 184.81L594.15 184.20L595.16 183.58L596.17 182.96L597.18 182.34L598.19 181.71L599.20 181.09L600.21 180.47L601.22 179.84L602.22 179.22L603.23 178.59L604.24 177.97L605.25 177.34L606.25 176.71L607.26 176.09L608.27 175.46L609.27 174.83L610.28 174.20L611.29 173.58L612.29 172.95L613.30 172.32L614.31 171.69L615.31 171.07L616.32 170.44L617.33 169.81L618.34 169.19L619.34 168.56L620.35 167.94L621.36 167.31L622.37 166.69L623.38 166.07L624.38 165.45L625.39 164.83L626.40 164.21L627.41 163.59L628.42 162.97L629.44 162.36L630.45 161.74L631.46 161.13L632.47 160.52L633.49 159.91L634.50 159.30L635.51 158.69L636.53 158.09L637.55 157.48L638.56 156.88L639.58 156.28L640.60 155.68L641.62 155.09L642.64 154.50L643.66 153.91L644.68 153.32L645.70 152.73L646.73 152.15L647.75 151.57L648.78 150.99L649.80 150.41L650.83 149.84L651.86 149.27L652.89 148.70L653.92 148.14L654.96 147.58L655.99 147.02L657.03 146.47L658.06 145.92L659.10 145.37L660.14 144.82L661.18 144.28L662.22 143.74L663.27 143.21L664.31 142.68L665.36 142.15L666.41 141.63L667.46 141.11L668.51 140.60L669.56 140.09L670.61 139.58L671.67 139.08L672.73 138.58L673.79 138.09L674.85 137.60L675.91 137.11L676.98 136.63L678.04 136.16L678.40 136.00" fill="none" stroke="#00ff00" stroke-width="2.0" stroke-linejoin="round" stroke-linecap="round"/>
<rect x="611.60" y="19.10" width="59.50" height="44.20" fill="#fff" stroke="#939393" stroke-width="1"/>
<circle cx="627.70" cy="25.40" r="1.1" fill="#ff0000"/>
<text x="643.0" y="29.10" font-size="8.4"><tspan class="sg">σ</tspan>=1.0</text>
<circle cx="627.70" cy="35.90" r="1.1" fill="#000000"/>
<text x="643.0" y="39.60" font-size="8.4"><tspan class="sg">σ</tspan>=0.95</text>
<circle cx="627.70" cy="46.40" r="1.1" fill="#0000ff"/>
<text x="643.0" y="50.10" font-size="8.4"><tspan class="sg">σ</tspan>=0.90</text>
<circle cx="627.70" cy="56.90" r="1.1" fill="#00ff00"/>
<text x="643.0" y="60.60" font-size="8.4"><tspan class="sg">σ</tspan>=0.85</text>
<text x="388.00" y="254.2" font-size="9.3" text-anchor="middle">0</text>
<text x="460.60" y="254.2" font-size="9.3" text-anchor="middle">50</text>
<text x="533.20" y="254.2" font-size="9.3" text-anchor="middle">100</text>
<text x="605.80" y="254.2" font-size="9.3" text-anchor="middle">150</text>
<text x="678.40" y="254.2" font-size="9.3" text-anchor="middle">200</text>
<text x="384.00" y="244.20" font-size="9.3" text-anchor="end">0</text>
<text x="384.00" y="198.51" font-size="9.3" text-anchor="end">0.5</text>
<text x="384.00" y="152.82" font-size="9.3" text-anchor="end">1</text>
<text x="384.00" y="107.13" font-size="9.3" text-anchor="end">1.5</text>
<text x="384.00" y="61.44" font-size="9.3" text-anchor="end">2</text>
<text x="384.00" y="15.75" font-size="9.3" text-anchor="end">2.5</text>
<text x="388.5" y="11.1" font-size="11" style="stroke-width:0">×</text>
<text x="395.6" y="9.8" font-size="9">10</text>
<text x="405.7" y="5.8" font-size="7.2" style="stroke-width:0.05px">5</text>
<text class="t" x="533.20" y="8.7" font-size="9.75" text-anchor="middle">Proposed Method</text>
<text x="533.20" y="267" font-size="9.9" text-anchor="middle">Time</text>
<text transform="translate(366.50,126.22) rotate(-90)" font-size="9.9" text-anchor="middle">R(t)</text>
<text class="cap" x="499.5" y="287.6" font-size="14">(b)</text>
<text class="cap" x="520.4" y="287.3" font-size="14" font-style="italic">ρ</text>
<text class="cap" x="532.3" y="288.4" font-size="14" textLength="10.0" lengthAdjust="spacingAndGlyphs">=</text>
<text class="cap" x="546.0" y="287" font-size="14">0.9</text>
</svg></body></html>
